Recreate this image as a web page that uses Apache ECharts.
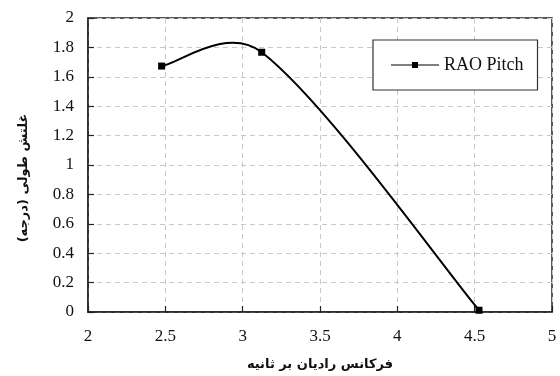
<!DOCTYPE html>
<html><head><meta charset="utf-8">
<script src="https://cdn.jsdelivr.net/npm/echarts@6/dist/echarts.min.js"></script>
<style>html,body{margin:0;padding:0;background:#fff}#c{width:560px;height:376px}</style>
</head><body><div id="c"></div>
<script>
const freq = [2.476, 3.123, 4.528];
const raoPitch = [1.673, 1.767, 0.012];
const seriesName = 'RAO Pitch';
const xTitle = 'فرکانس رادیان بر ثانیه';
const yTitle = 'غلتش طولی (درجه)';

const chart = echarts.init(document.getElementById('c'));
const serif = 'Liberation Serif';

// smooth curve (centripetal-weighted Catmull-Rom style, like spreadsheet smoothing)
function smoothPath(pts) {
  const n = pts.length;
  const c = 0.31, endK = 1 / 6;
  const dist = (a, b) => Math.hypot(b[0] - a[0], b[1] - a[1]);
  const hIn = [], hOut = [];
  for (let i = 0; i < n; i++) {
    if (i === 0 || i === n - 1) { hIn.push(null); hOut.push(null); continue; }
    const p0 = pts[i - 1], p1 = pts[i], p2 = pts[i + 1];
    const s0 = Math.sqrt(dist(p0, p1)), s1 = Math.sqrt(dist(p1, p2));
    const tx = p2[0] - p0[0], ty = p2[1] - p0[1];
    const kb = c * s0 / (s0 + s1), kf = c * s1 / (s0 + s1);
    hIn.push([p1[0] - kb * tx, p1[1] - kb * ty]);
    hOut.push([p1[0] + kf * tx, p1[1] + kf * ty]);
  }
  let d = 'M' + pts[0][0] + ',' + pts[0][1];
  for (let i = 0; i < n - 1; i++) {
    const a = pts[i], b = pts[i + 1];
    const c1 = hOut[i] || [a[0] + (b[0] - a[0]) * endK, a[1] + (b[1] - a[1]) * endK];
    const c2 = hIn[i + 1] || [b[0] - (b[0] - a[0]) * endK, b[1] - (b[1] - a[1]) * endK];
    d += 'C' + c1[0] + ',' + c1[1] + ' ' + c2[0] + ',' + c2[1] + ' ' + b[0] + ',' + b[1];
  }
  return d;
}

chart.setOption({
  animation: false,
  backgroundColor: '#fff',
  grid: {left: 88, right: 8, top: 18, bottom: 60, show: true, borderColor: '#222', borderWidth: 1.5},
  legend: {
    left: 373, top: 40, width: 140,
    padding: [16, 14, 16, 18],
    borderColor: '#333', borderWidth: 1.2, backgroundColor: '#fff',
    itemWidth: 48, itemHeight: 6, itemGap: 4,
    textStyle: {fontFamily: serif, fontSize: 18, color: '#111'},
    data: [{name: seriesName, icon: 'path://M0,2.4H48V3.6H0Z M21,0H27V6H21Z'}]
  },
  xAxis: {
    type: 'value', min: 2, max: 5, interval: 0.5,
    name: xTitle, nameLocation: 'middle', nameGap: 46,
    nameTextStyle: {fontFamily: 'DejaVu Sans', fontSize: 13, fontWeight: 'bold', color: '#111'},
    axisLine: {show: true, onZero: false, lineStyle: {color: '#222', width: 1.5}},
    axisTick: {show: true, inside: true, length: 6, lineStyle: {color: '#222', width: 1.2}},
    axisLabel: {fontFamily: serif, fontSize: 17, color: '#111', margin: 16},
    splitLine: {show: true, lineStyle: {color: '#c8c8c8', type: [5, 4], width: 1}}
  },
  yAxis: {
    type: 'value', min: 0, max: 2, interval: 0.2,
    name: yTitle, nameLocation: 'middle', nameGap: 58, nameRotate: 90,
    nameTextStyle: {fontFamily: 'DejaVu Sans', fontSize: 13, fontWeight: 'bold', color: '#111',
      padding: [0, 26, 0, 0]},
    axisLine: {show: true, lineStyle: {color: '#222', width: 1.5}},
    axisTick: {show: true, inside: true, length: 6, lineStyle: {color: '#222', width: 1.2}},
    axisLabel: {fontFamily: serif, fontSize: 17, color: '#111', margin: 14,
      formatter: v => String(Math.round(v * 10) / 10)},
    splitLine: {show: true, lineStyle: {color: '#c8c8c8', type: [5, 4], width: 1}}
  },
  series: [{
    name: seriesName, type: 'custom', coordinateSystem: 'cartesian2d',
    itemStyle: {color: '#000'},
    clip: false,
    data: freq.map((x, i) => [x, raoPitch[i]]),
    renderItem: function (params, api) {
      const children = [];
      if (params.dataIndex === 0) {
        const pts = freq.map((x, i) => api.coord([x, raoPitch[i]]));
        children.push({type: 'path', shape: {pathData: smoothPath(pts)},
          style: {fill: null, stroke: '#000', lineWidth: 2}});
      }
      const p = api.coord([api.value(0), api.value(1)]);
      children.push({type: 'rect', shape: {x: p[0] - 3.5, y: p[1] - 3.5, width: 7, height: 7},
        style: {fill: '#000'}});
      return {type: 'group', children: children};
    }
  }]
});
</script></body></html>
